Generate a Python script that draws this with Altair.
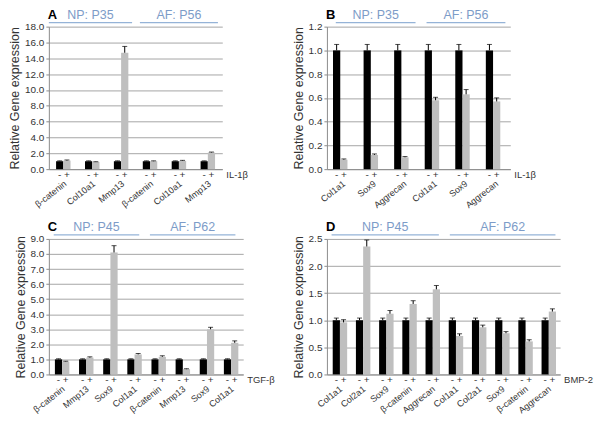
import altair as alt
import pandas as pd

FONT = "Liberation Sans"
BLACK = "#000000"
GREY = "#bfbfbf"
BLUE_TXT = "#7d9cc8"
BLUE_LINE = "#95b3d7"
AXIS_GREY = "#8c8c8c"
GRID_GREY = "#a6a6a6"
TXT = "#333333"

# ---------------- Panel A (IL-1beta) ----------------
a_genes = ["β-catenin", "Col10a1", "Mmp13", "β-catenin", "Col10a1", "Mmp13"]
a_minus = [1.0, 1.0, 1.0, 1.0, 1.0, 1.0]
a_minus_err = [0.05, 0.05, 0.05, 0.05, 0.05, 0.05]
a_plus = [1.08, 0.90, 14.7, 1.0, 1.05, 2.1]
a_plus_err = [0.08, 0.04, 0.8, 0.05, 0.06, 0.06]
a_groups = ["NP: P35", "AF: P56"]
a_spans = [(0.0, 2.88), (3.15, 5.85)]
a_ticks = [0, 2, 4, 6, 8, 10, 12, 14, 16, 18]

# ---------------- Panel B (IL-1beta) ----------------
b_genes = ["Col1a1", "Sox9", "Aggrecan", "Col1a1", "Sox9", "Aggrecan"]
b_minus = [1.0, 1.0, 1.0, 1.0, 1.0, 1.0]
b_minus_err = [0.05, 0.05, 0.05, 0.05, 0.05, 0.05]
b_plus = [0.08, 0.12, 0.10, 0.58, 0.63, 0.57]
b_plus_err = [0.006, 0.008, 0.006, 0.025, 0.04, 0.03]
b_groups = ["NP: P35", "AF: P56"]
b_spans = [(0.29, 2.9), (3.26, 5.84)]
b_ticks = [0, 0.2, 0.4, 0.6, 0.8, 1.0, 1.2]

# ---------------- Panel C (TGF-beta) ----------------
c_genes = ["β-catenin", "Mmp13", "Sox9", "Col1a1", "β-catenin", "Mmp13", "Sox9", "Col1a1"]
c_minus = [1.0, 1.0, 1.0, 1.0, 1.0, 1.0, 1.0, 1.0]
c_minus_err = [0.04, 0.04, 0.04, 0.04, 0.04, 0.04, 0.04, 0.04]
c_plus = [0.85, 1.12, 8.1, 1.33, 1.17, 0.35, 3.0, 2.1]
c_plus_err = [0.03, 0.05, 0.45, 0.06, 0.07, 0.03, 0.13, 0.13]
c_groups = ["NP: P45", "AF: P62"]
c_spans = [(0.2, 3.72), (4.16, 7.68)]
c_ticks = [0, 1, 2, 3, 4, 5, 6, 7, 8, 9]

# ---------------- Panel D (BMP-2) ----------------
d_genes = ["Col1a1", "Col2a1", "Sox9", "β-catenin", "Aggrecan",
           "Col1a1", "Col2a1", "Sox9", "β-catenin", "Aggrecan"]
d_minus = [1.0, 1.0, 1.0, 1.0, 1.0, 1.0, 1.0, 1.0, 1.0, 1.0]
d_minus_err = [0.04, 0.04, 0.04, 0.04, 0.04, 0.04, 0.04, 0.04, 0.04, 0.04]
d_plus = [0.96, 2.36, 1.12, 1.30, 1.57, 0.71, 0.87, 0.76, 0.61, 1.16]
d_plus_err = [0.05, 0.12, 0.06, 0.06, 0.07, 0.04, 0.04, 0.03, 0.03, 0.05]
d_groups = ["NP: P45", "AF: P62"]
d_spans = [(0.2, 4.8), (5.27, 9.8)]
d_ticks = [0, 0.5, 1.0, 1.5, 2.0, 2.5]

TRT = ["-", "+"]


def panel(letter, genes, minus, minus_err, plus, plus_err, groups, spans,
          trt_label, ticks, width, height, pad_inner, pad_outer):
    keys = [f"{i}|{g}" for i, g in enumerate(genes)]
    rows = []
    for k, g, m, me, p, pe in zip(keys, genes, minus, minus_err, plus, plus_err):
        rows.append(dict(key=k, gene=g, trt="-", value=m, top=m + me))
        rows.append(dict(key=k, gene=g, trt="+", value=p, top=p + pe))
    df = pd.DataFrame(rows)

    x_axis = alt.Axis(
        labelExpr="split(datum.label, '|')[1]", labelAngle=-38,
        labelAlign="right", labelBaseline="middle", ticks=False,
        domainColor=AXIS_GREY, labelPadding=13, labelOffset=2, labelFontSize=9,
        labelColor=TXT, grid=False, title=None,
    )
    x = alt.X("key:N", sort=keys, axis=x_axis,
              scale=alt.Scale(paddingInner=pad_inner, paddingOuter=pad_outer))
    xo = alt.XOffset("trt:N", sort=TRT,
                     scale=alt.Scale(domain=TRT, paddingInner=0, paddingOuter=0))
    y_scale = alt.Scale(domain=[0, ticks[-1]], nice=False)
    y_axis = alt.Axis(
        values=ticks, format=".1f", grid=True, gridColor=GRID_GREY,
        domainColor=AXIS_GREY, tickColor=AXIS_GREY, tickSize=3,
        labelFontSize=10, labelColor=TXT, labelPadding=2,
        titleFontSize=12.5, titleFontWeight="normal", titleColor=TXT,
        titlePadding=3,
    )
    title = "Relative Gene expression"

    def Y(field):
        return alt.Y(field, scale=y_scale, axis=y_axis, title=title)

    base = alt.Chart(df)
    bars = base.mark_bar().encode(
        x=x, xOffset=xo, y=Y("value:Q"),
        color=alt.Color("trt:N", scale=alt.Scale(domain=TRT, range=[BLACK, GREY]),
                        legend=None),
    )
    err = base.mark_rule(color=BLACK, strokeWidth=1).encode(
        x=x, xOffset=xo, y=Y("value:Q"), y2="top:Q")
    cap = base.mark_tick(color=BLACK, thickness=1, size=5, orient="horizontal").encode(
        x=x, xOffset=xo, y=Y("top:Q"))
    sign = base.mark_text(fontSize=10, fill=TXT, baseline="middle").encode(
        x=x, xOffset=xo, y=alt.value(height + 6), text="trt:N")
    main = alt.layer(bars, err, cap, sign)

    n = len(genes)
    gdf = pd.DataFrame({
        "label": groups,
        "start": [s[0] for s in spans],
        "end": [s[1] for s in spans],
        "mid": [(s[0] + s[1]) / 2 for s in spans],
    })
    gscale = alt.Scale(domain=[0, n], nice=False, zero=False)
    grule = alt.Chart(gdf).mark_rule(color=BLUE_LINE, strokeWidth=1.2).encode(
        x=alt.X("start:Q", scale=gscale, axis=None), x2="end:Q", y=alt.value(-4))
    gtext = alt.Chart(gdf).mark_text(color=BLUE_TXT, fontSize=12.5, baseline="middle").encode(
        x=alt.X("mid:Q", scale=gscale, axis=None), y=alt.value(-12), text="label:N")
    let = alt.Chart(pd.DataFrame({"t": [letter]})).mark_text(
        fontWeight="bold", fontSize=13, align="left", baseline="middle", color=BLACK
    ).encode(x=alt.value(-1), y=alt.value(-12), text="t:N")
    trt = alt.Chart(pd.DataFrame({"t": [trt_label]})).mark_text(
        fontSize=9.5, align="left", baseline="middle", color=TXT
    ).encode(x=alt.value(width + 4), y=alt.value(height + 6), text="t:N")

    return alt.layer(main, grule, gtext, let, trt).resolve_scale(x="independent").properties(
        width=width, height=height)


A = panel("A", a_genes, a_minus, a_minus_err, a_plus, a_plus_err, a_groups, a_spans,
          "IL-1β", a_ticks, 174, 143, 0.5, 0.25)
B = panel("B", b_genes, b_minus, b_minus_err, b_plus, b_plus_err, b_groups, b_spans,
          "IL-1β", b_ticks, 184, 143, 0.4, 0.2)
C = panel("C", c_genes, c_minus, c_minus_err, c_plus, c_plus_err, c_groups, c_spans,
          "TGF-β", c_ticks, 195, 136, 0.45, 0.25)
D = panel("D", d_genes, d_minus, d_minus_err, d_plus, d_plus_err, d_groups, d_spans,
          "BMP-2", d_ticks, 234, 136, 0.45, 0.25)

chart = alt.concat(
    A, B, C, D, columns=2, spacing={"row": 70, "column": 84}, bounds="flush"
).properties(
    padding={"left": 0, "top": 0, "right": 0, "bottom": 0}
).configure(font=FONT).configure_view(stroke=None)

chart.save("out.html", embed_options={"renderer": "svg", "actions": False})
